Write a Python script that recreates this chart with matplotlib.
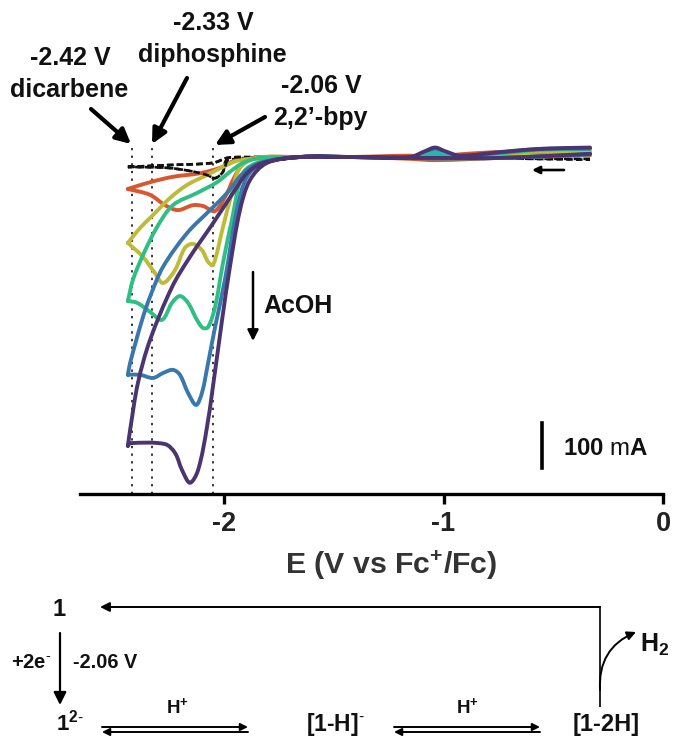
import numpy as np
import matplotlib
matplotlib.use("Agg")
import matplotlib.pyplot as plt
from matplotlib.path import Path
from matplotlib.patches import PathPatch

plt.rcParams['font.family'] = ['Liberation Sans', 'DejaVu Sans']
plt.rcParams['mathtext.fontset'] = 'custom'
plt.rcParams['mathtext.rm'] = 'Liberation Sans'
plt.rcParams['mathtext.bf'] = 'Liberation Sans:bold'
plt.rcParams['mathtext.default'] = 'bf'

# potential (V vs Fc+/Fc) and current (mA)
# every scan: start at -0.33 V, go to the vertex, come back
E_fwd_right = [-0.334, -0.563, -0.746, -0.929, -0.998, -1.043, -1.089, -1.158, -1.432, -1.661]
E_ret_right = [-1.661, -1.432, -1.158, -1.043, -0.746, -0.334]

E_black = E_fwd_right + [-1.995, -2.014, -2.050, -2.087, -2.165, -2.270, -2.449, -2.270, -2.059] + [-1.995, -1.922] + E_ret_right
I_black = [-4, -4, -3, -1, 0, 1, 0, 0, 0, 0] + [-7, -33, -47, -40, -31, -24, -22, -18, -13] + [-2, 0] + [0, 0, 0, 0, -3, -6]

E_red = E_fwd_right + [-1.876, -1.927, -1.968, -1.995, -2.050, -2.105, -2.151, -2.220, -2.279, -2.348, -2.449, -2.348, -2.243, -2.119, -2.027, -1.950] + E_ret_right
I_red = [10, 10, 11, 6, 2, 0, 1, 3, 0, 0] + [-2, -18, -51, -80, -120, -109, -107, -118, -107, -84, -71, -56, -44, -36, -24, -7] + [0, 0, -4, -7, -2, 4]

E_yellow = E_fwd_right + [-1.858, -1.936, -1.973, -2.014, -2.059, -2.082, -2.110, -2.151, -2.188, -2.233, -2.288, -2.325, -2.380, -2.449, -2.394, -2.334, -2.256, -2.178, -2.087, -2.014, -1.936] + E_ret_right
I_yellow = [12, 12, 6, 1, 4, 8, 4, 0, 0, 0] + [-2, -24, -80, -156, -240, -233, -207, -193, -202, -251, -280, -258, -222, -191, -158, -129, -91, -62, -40, -22, -7] + [0, 0, -1, -1, 0, 6]

E_green = E_fwd_right + [-1.844, -1.922, -1.973, -2.014, -2.050, -2.082, -2.105, -2.133, -2.174, -2.211, -2.247, -2.293, -2.348, -2.407, -2.449, -2.426, -2.380, -2.316, -2.243, -2.133, -2.041, -1.982, -1.922, -1.844] + E_ret_right
I_green = [18, 16, 8, 2, 8, 14, 8, 0, 0, 0] + [-11, -36, -140, -236, -333, -378, -380, -362, -324, -309, -324, -362, -344, -324, -320, -273, -218, -156, -107, -80, -56, -33, -13, -2] + [0, 0, -2, -3, -2, 6]

E_blue = E_fwd_right + [-1.831, -1.904, -1.950, -2.005, -2.050, -2.082, -2.110, -2.137, -2.174, -2.211, -2.243, -2.288, -2.334, -2.394, -2.449, -2.439, -2.384, -2.348, -2.288, -2.178, -2.073, -1.995, -1.922, -1.844] + E_ret_right
I_blue = [19, 18, 10, 2, 10, 17, 10, 0, 0, 0] + [-13, -44, -118, -273, -378, -458, -524, -551, -524, -484, -473, -480, -491, -484, -484, -458, -362, -311, -244, -169, -118, -80, -36, -13] + [0, 0, -2, -3, -2, 6]

E_purple = E_fwd_right + [-1.812, -1.890, -1.936, -1.982, -2.018, -2.041, -2.087, -2.128, -2.165, -2.201, -2.233, -2.279, -2.439, -2.449, -2.439, -2.403, -2.348, -2.247, -2.165, -2.059, -1.968, -1.904, -1.831] + E_ret_right
I_purple = [21, 18, 11, 3, 13, 21, 13, 0, 0, 0] + [-13, -51, -118, -244, -362, -444, -600, -696, -724, -696, -658, -638, -636, -642, -607, -502, -407, -289, -222, -147, -80, -36, -13] + [0, 0, -2, -2, -2, 7]

# teal area under the -1.03 V wave
E_wave = [-0.90, -1.04, -1.16]
I_wave = [0, 16, 0]

traces = [
    (E_red, I_red, '#D9562E', '-'),
    (E_yellow, I_yellow, '#BDBB38', '-'),
    (E_green, I_green, '#2FBE84', '-'),
    (E_blue, I_blue, '#3A78AC', '-'),
    (E_purple, I_purple, '#4A3570', '-'),
]

peak_E = [-2.42, -2.33, -2.05]
E_ticks = [-2, -1, 0]
E_cal = 218.5 / 219.5  # curves were read with a slightly short volt
SX, SY = 219.5, 0.45


def smooth_path(xs, ys):
    # smooth curve through the points, corner at the vertex of the scan
    xs, ys = np.array(xs, float) * E_cal, np.array(ys, float)
    scale = np.array([SX, SY])
    k = int(np.argmin(xs))
    verts, codes = [], []
    for a, b in [(0, k + 1), (k, len(xs))]:
        p = np.column_stack([xs[a:b], ys[a:b]]) * scale
        d = np.hypot(*np.diff(p, axis=0).T)
        t = np.zeros_like(p)
        t[0] = (p[1] - p[0]) / d[0]
        t[-1] = (p[-1] - p[-2]) / d[-1]
        for i in range(1, len(p) - 1):
            t[i] = (p[i + 1] - p[i - 1]) / (d[i - 1] + d[i])
        verts.append(p[0])
        codes.append(Path.MOVETO)
        for i in range(len(p) - 1):
            verts += [p[i] + t[i] * d[i] / 3, p[i + 1] - t[i + 1] * d[i] / 3, p[i + 1]]
            codes += [Path.CURVE4] * 3
    return Path(np.array(verts) / scale, codes)


fig = plt.figure(figsize=(6.73, 7.37), dpi=100)
W, H = 673.0, 737.0

ax = fig.add_axes([80 / W, 1 - 494 / H, 583 / W, 354 / H])
ax.set_xlim(-583 / SX, 0)
ax.set_ylim(-748.9, 37.8)
ax.patch.set_alpha(0)
for s in ['top', 'left', 'right']:
    ax.spines[s].set_visible(False)
ax.spines['bottom'].set_linewidth(2.4)
ax.set_yticks([])
ax.set_xticks(E_ticks)
ax.set_xticklabels(['-2', '-1', '0'], fontsize=19.5, fontweight='bold', color='#222222')
ax.tick_params(axis='x', length=7, width=2.4, pad=5)

for e in peak_E:
    ax.plot([e, e], [-748, 20], color='black', lw=1.1, ls=(0, (1.5, 3.5)), zorder=1)

# dashed blank scan: full length under the others, left part again on top
ax.add_patch(PathPatch(smooth_path(E_black, I_black), fill=False, edgecolor='#111111', lw=1.9,
                       linestyle=(0, (2.5, 1.2)), zorder=2))
ax.fill_between(E_wave, [0, 0, 0], I_wave, color='#2BB3AE', lw=0, zorder=4)
for i, (xs, ys, col, ls) in enumerate(traces):
    ax.add_patch(PathPatch(smooth_path(xs, ys), fill=False, edgecolor=col, lw=2.8,
                           capstyle='round', joinstyle='round', zorder=3 if col != '#4A3570' else 5))
left = np.array(E_black) < -1.9
ax.add_patch(PathPatch(smooth_path(np.array(E_black)[left], np.array(I_black)[left]), fill=False,
                       edgecolor='#111111', lw=1.9, linestyle=(0, (2.5, 1.2)), zorder=6))

# labels, arrows and the scheme below live on a pixel overlay
ov = fig.add_axes([0, 0, 1, 1])
ov.set_xlim(0, W)
ov.set_ylim(H, 0)
ov.axis('off')
ov.patch.set_alpha(0)


def label(x, y, s, size=18, **kw):
    kw.setdefault('ha', 'center')
    kw.setdefault('color', '#111111')
    ov.text(x, y, s, fontsize=size, fontweight='bold', va='center', **kw)


def arrow(x0, y0, x1, y1, lw=1.5, head='-|>', ms=14, **kw):
    ov.annotate('', xy=(x1, y1), xytext=(x0, y0),
                arrowprops=dict(arrowstyle=head, color='black', lw=lw, mutation_scale=ms,
                                shrinkA=0, shrinkB=0, **kw))


label(391, 565, r'E (V vs Fc$^{+}$/Fc)', size=21.8, color='#333333')
label(213, 23, '-2.33 V')
label(212, 55, 'diphosphine')
label(70, 58, '-2.42 V')
label(69, 90, 'dicarbene')
label(321, 86, '-2.06 V')
label(320, 118, "2,2’-bpy")

arrow(91, 109, 131, 144, lw=3, ms=22)
arrow(187, 78, 152, 144, lw=3, ms=22)
arrow(265, 117, 215, 145, lw=3, ms=22)

arrow(253, 272, 253, 341, lw=1.8, ms=16)
label(263, 306, 'AcOH', ha='left')
arrow(564, 170, 532, 170, lw=1.9, ms=11)

ov.plot([542, 542], [423, 468], color='black', lw=2.6)
label(563, 448, r'100 $\mathrm{m}$A', size=17.3, ha='left')

# catalytic scheme
label(59, 610, '1', size=17)
ov.plot([600, 600], [607, 706], color='#222222', lw=1.4)
arrow(600, 607, 100, 607, lw=1.4, ms=14)
arrow(600, 690, 636, 632, lw=1.4, ms=13, connectionstyle='arc3,rad=-0.35')
label(655, 645, r'H$_{2}$', size=18)
arrow(60, 633, 60, 705, lw=1.6, ms=19)
label(31, 663, r'+2e$^{\text{-}}$', size=14.5)
label(105, 663, '-2.06 V', size=14.3)
label(70, 723, r'1$^{2\text{-}}$', size=16)
label(177, 707, r'H$^{+}$', size=13.5)
label(467, 707, r'H$^{+}$', size=13.5)
label(335, 724, r'[1-H]$^{\text{-}}$', size=16.5)
label(606, 724, '[1-2H]', size=17)
for x0, x1 in [(102, 248), (394, 540)]:
    ov.annotate('', xy=(x1, 727), xytext=(x0, 727),
                arrowprops=dict(arrowstyle='-|>', color='black', lw=1.4, mutation_scale=11, shrinkA=0, shrinkB=0))
    ov.annotate('', xy=(x0, 732), xytext=(x1, 732),
                arrowprops=dict(arrowstyle='-|>', color='black', lw=1.4, mutation_scale=11, shrinkA=0, shrinkB=0))

fig.savefig('out.png', dpi=100)
